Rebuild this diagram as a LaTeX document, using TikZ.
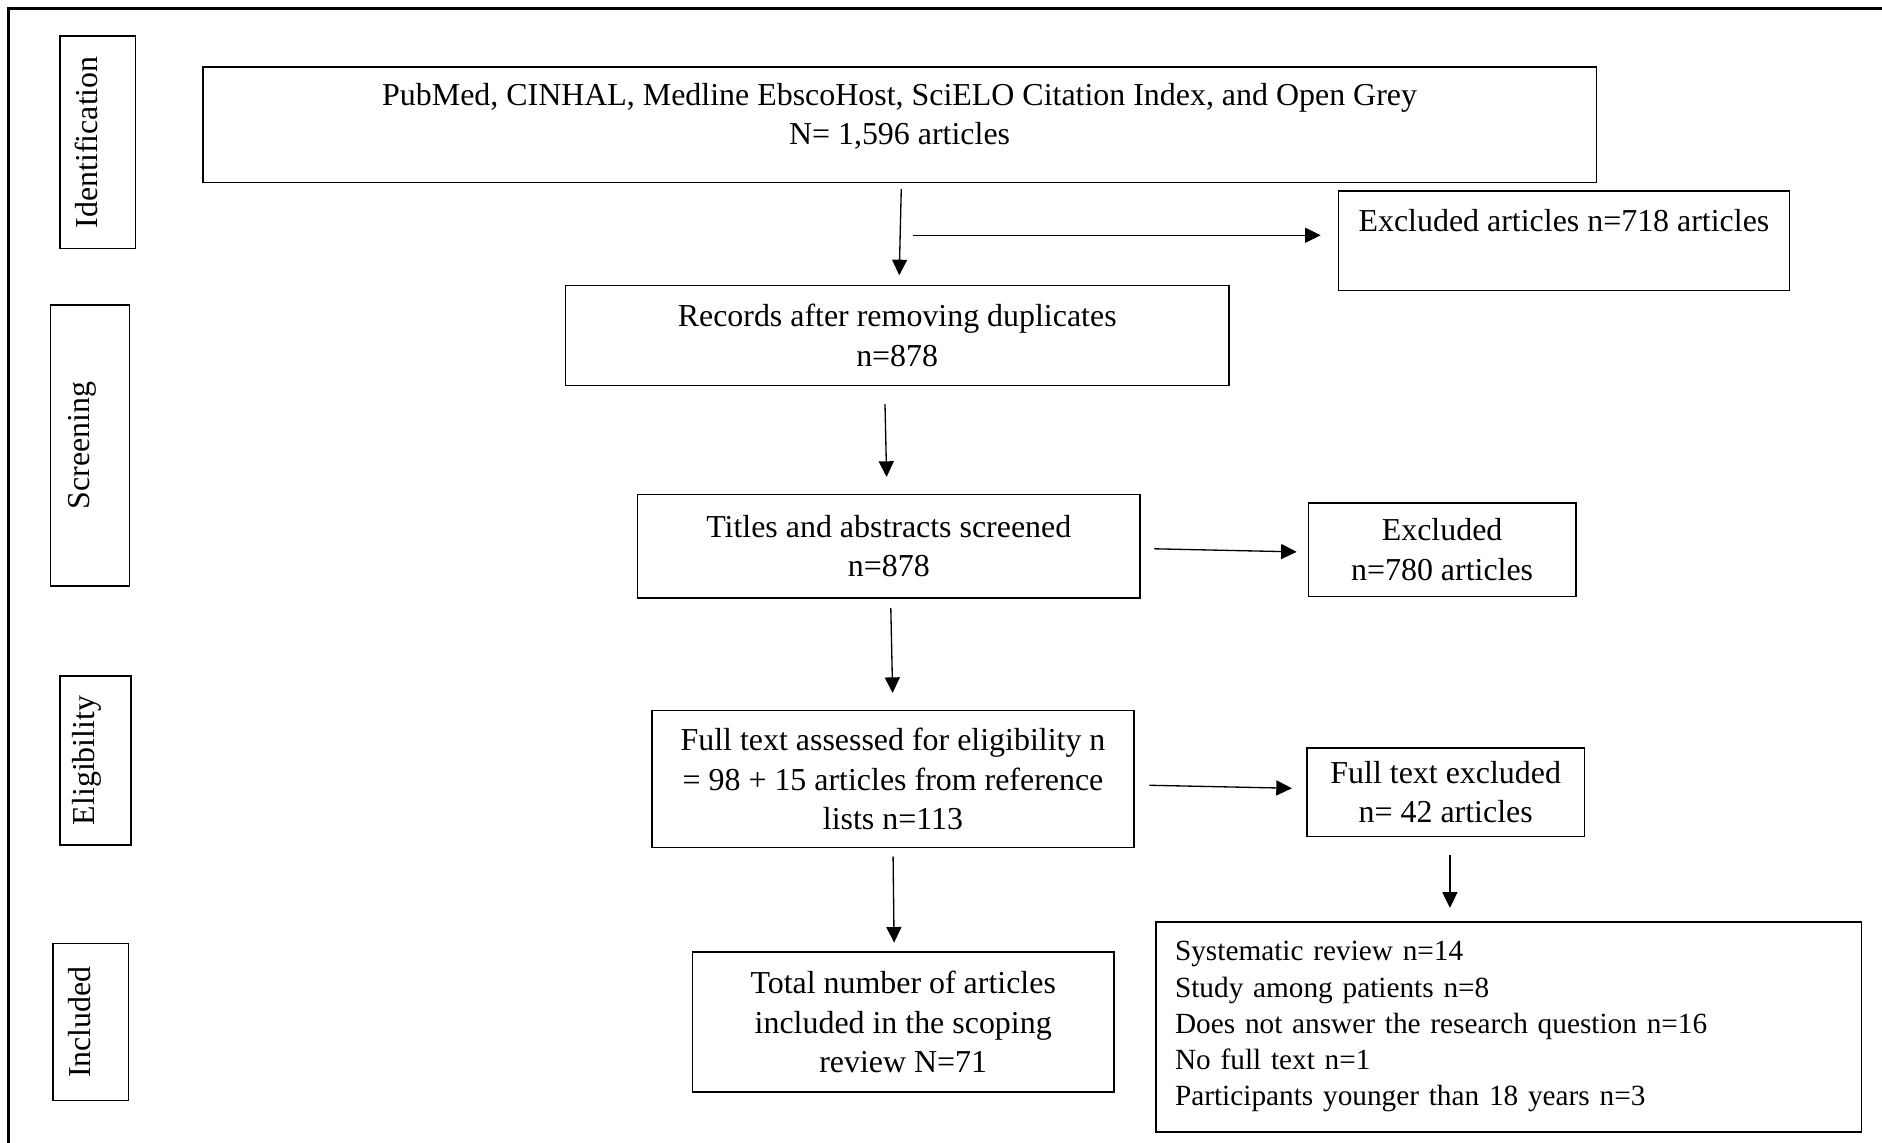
\documentclass[tikz,border=0pt]{standalone}
\usepackage{fontspec}
\setmainfont{Liberation Serif}
\usetikzlibrary{arrows.meta}
\begin{document}
\begin{tikzpicture}[x=1pt,y=-1pt,
  box/.style={draw, line width=1.3pt, align=center, inner sep=0pt,
    font=\fontsize{26.6pt}{33pt}\selectfont},
  phase/.style={box, rotate=90, text height=18pt, text depth=19pt},
  flow/.style={line width=1.1pt, -{Triangle[length=13pt,width=12.5pt]}},
]
\useasboundingbox (0,0) rectangle (1568,952);
% page frame (top and left edges)
\draw[line width=2.2pt] (7,952) -- (7,7) -- (1568,7);

% phase labels
\node[phase, minimum width=177pt, minimum height=63pt] (id)  at (81.5,118.5) {Identification};
\node[phase, minimum width=234pt, minimum height=66pt] (scr) at (75,371)    {Screening};
\node[phase, minimum width=141pt, minimum height=59pt] (eli) at (79.5,633.5) {Eligibility};
\node[phase, minimum width=131pt, minimum height=63pt] (inc) at (75.5,851.5) {Included};

% main flow
\node[box, minimum width=1161pt, minimum height=96pt] (src) at (749.5,104)
  {PubMed, CINHAL, Medline EbscoHost, SciELO Citation Index, and Open Grey\\N= 1,596 articles\\[-15pt]\mbox{}};
\node[box, minimum width=376pt, minimum height=83pt] (ex1) at (1303,200.5)
  {Excluded articles n=718 articles\\ \mbox{}};
\node[box, minimum width=553pt, minimum height=83pt] (rec) at (747.5,279.5)
  {Records after removing duplicates\\n=878};
\node[box, minimum width=419pt, minimum height=86pt] (tas) at (740.5,455)
  {Titles and abstracts screened\\n=878};
\node[box, minimum width=223pt, minimum height=78pt] (ex2) at (1201.5,458)
  {Excluded\\n=780 articles};
\node[box, minimum width=402pt, minimum height=114pt] (ful) at (744,649)
  {Full text assessed for eligibility n\\= 98 + 15 articles from reference\\lists n=113};
\node[box, minimum width=231pt, minimum height=74pt] (ex3) at (1204.5,660)
  {Full text excluded\\n= 42 articles};
\node[box, minimum width=351pt, minimum height=117pt] (tot) at (752.5,851.5)
  {Total number of articles\\included in the scoping\\review N=71};
\node[box, align=left, text width=556pt, inner xsep=16pt, minimum height=175pt,
  font=\fontsize{24.4pt}{30.25pt}\selectfont] (rsn) at (1257,855.5)
  {Systematic review n=14\\Study among patients n=8\\Does not answer the research question n=16\\No full text n=1\\Participants younger than 18 years n=3};

% connectors
\coordinate (split) at (761,196);
\draw[flow, shorten <=5pt, shorten >=8pt] ([xshift=1.5pt]src.south) -- ([xshift=1.5pt]rec.north);
\draw[flow, shorten >=14pt] (split) -- (split -| ex1.west);
\draw[flow, shorten <=15pt, shorten >=14pt] ([xshift=-10.5pt]rec.south) -- ([xshift=-1.5pt]tas.north);
\draw[flow, shorten <=11pt, shorten >=9pt] ([yshift=-2pt]tas.east) -- ([yshift=-2pt]ex2.west);
\draw[flow, shorten <=8pt, shorten >=14pt] ([xshift=1.5pt]tas.south) -- (ful.north);
\draw[flow, shorten <=12pt, shorten >=12pt] ([yshift=-5pt]ful.east) -- ([yshift=3pt]ex3.west);
\draw[flow, shorten <=7pt, shorten >=7pt] (ful.south) -- ([xshift=-7.5pt]tot.north);
\draw[flow, shorten <=15pt, shorten >=11pt] ([xshift=3.5pt]ex3.south) -- ([xshift=-49pt]rsn.north);
\end{tikzpicture}
\end{document}
